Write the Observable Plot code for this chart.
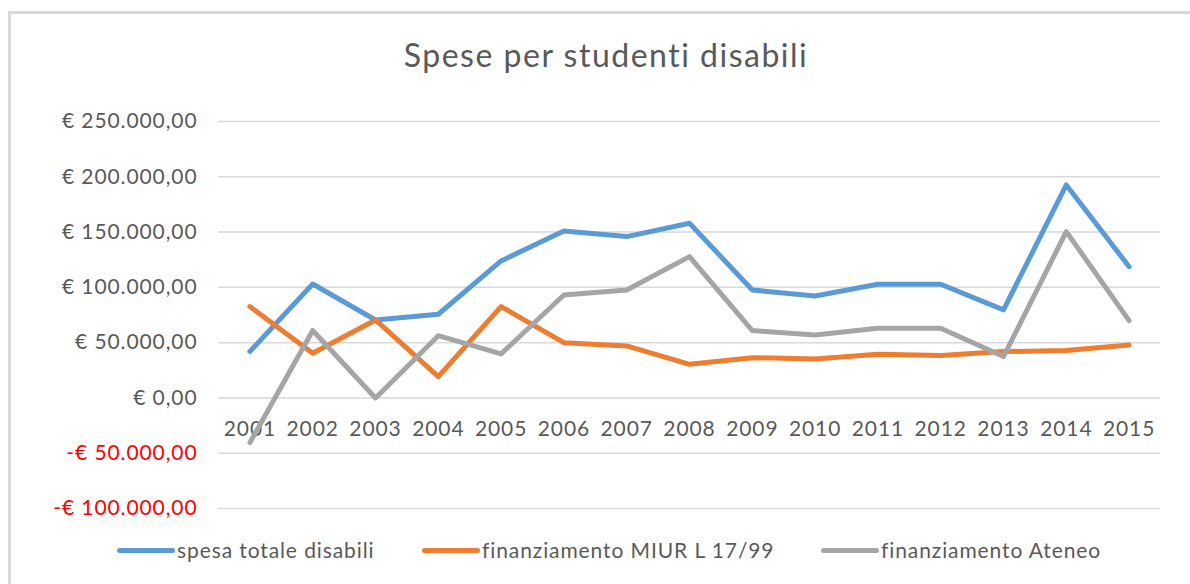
<!DOCTYPE html>
<html>
<head>
<meta charset="utf-8">
<script src="https://cdn.jsdelivr.net/npm/d3@7"></script>
<script src="https://cdn.jsdelivr.net/npm/@observablehq/plot@0.6"></script>
<style>
  html, body { margin: 0; padding: 0; background: #fff; overflow: hidden; }
  #wrap { position: relative; width: 1190px; height: 584px; font-family: Lato, "Open Sans", sans-serif; color: #595959; }
  #frame { position: absolute; left: 8px; top: 11px; width: 1200px; height: 600px; border-left: 3px solid #d9d9d9; border-top: 3px solid #d9d9d9; box-sizing: border-box; }
  #title { position: absolute; left: 1px; width: 1210px; top: 35px; text-align: center; font-size: 32px; line-height: 40px; letter-spacing: 1.5px; }
  #chart { position: absolute; left: 0; top: 100px; }
  .item { position: absolute; top: 537px; display: flex; align-items: center; font-size: 21px; line-height: 26px; letter-spacing: 0.9px; white-space: nowrap; }
  .sw { width: 58px; height: 5px; border-radius: 3px; margin-right: 2px; }
</style>
</head>
<body>
<div id="wrap">
  <div id="frame"></div>
  <div id="title">Spese per studenti disabili</div>
  <div id="chart"></div>
  <div id="legend"></div>
</div>
<script>
const years = ["2001","2002","2003","2004","2005","2006","2007","2008","2009","2010","2011","2012","2013","2014","2015"];
const spesaTotale = [42000, 103000, 70500, 75700, 123900, 151000, 145900, 158000, 97600, 92200, 102800, 102800, 79600, 192600, 118700];
const finanziamentoMIUR = [82600, 40400, 70500, 19300, 82600, 50000, 47000, 30400, 36400, 35300, 39500, 38300, 41900, 42800, 47900];
const finanziamentoAteneo = [-40400, 61000, 0, 56300, 39800, 93100, 97600, 127800, 60900, 57000, 63000, 63000, 37400, 150400, 69900];
const yTicks = [-100000, -50000, 0, 50000, 100000, 150000, 200000, 250000];
const seriesNames = ["spesa totale disabili", "finanziamento MIUR L 17/99", "finanziamento Ateneo"];
const seriesColors = ["#5B9BD5", "#ED7D31", "#A5A5A5"];

const seriesValues = [spesaTotale, finanziamentoMIUR, finanziamentoAteneo];
const rows = [];
seriesNames.forEach((name, i) => {
  years.forEach((y, j) => rows.push({serie: name, anno: y, valore: seriesValues[i][j]}));
});

const fmt = v => {
  const s = Math.abs(v).toLocaleString("de-DE", {minimumFractionDigits: 2, maximumFractionDigits: 2});
  return (v < 0 ? "-€ " : "€ ") + s;
};

const textColor = "#595959";
const plot = Plot.plot({
  width: 1190,
  height: 420,
  marginLeft: 218,
  marginRight: 30,
  marginTop: 21,
  marginBottom: 12,
  style: {fontFamily: "Lato, 'Open Sans', sans-serif", background: "transparent", letterSpacing: "0.9px"},
  x: {type: "point", domain: years, padding: 0.5, round: false, axis: null},
  y: {domain: [-100000, 250000], axis: null},
  color: {domain: seriesNames, range: seriesColors},
  marks: [
    Plot.gridY(yTicks, {stroke: "#d9d9d9", strokeOpacity: 1, strokeWidth: 1.5}),
    Plot.axisY(yTicks.filter(d => d >= 0), {tickSize: 0, tickPadding: 21, tickFormat: fmt, fill: textColor, fontSize: 21, label: null}),
    Plot.axisY(yTicks.filter(d => d < 0), {tickSize: 0, tickPadding: 21, tickFormat: fmt, fill: "#FF0000", fontSize: 21, label: null}),
    Plot.text(years, {x: d => d, y: d => 0, dy: 31, text: d => d, fill: textColor, fontSize: 21}),
    Plot.line(rows, {x: "anno", y: "valore", z: "serie", stroke: "serie", strokeWidth: 5, strokeLinejoin: "round", strokeLinecap: "round"})
  ]
});
document.getElementById("chart").appendChild(plot);

const legend = document.getElementById("legend");
const legendLeft = [117, 422, 821];
seriesNames.forEach((name, i) => {
  const it = document.createElement("div");
  it.className = "item";
  it.style.left = legendLeft[i] + "px";
  const sw = document.createElement("div");
  sw.className = "sw";
  sw.style.background = seriesColors[i];
  const t = document.createElement("span");
  t.textContent = name;
  it.appendChild(sw);
  it.appendChild(t);
  legend.appendChild(it);
});
</script>
</body>
</html>
